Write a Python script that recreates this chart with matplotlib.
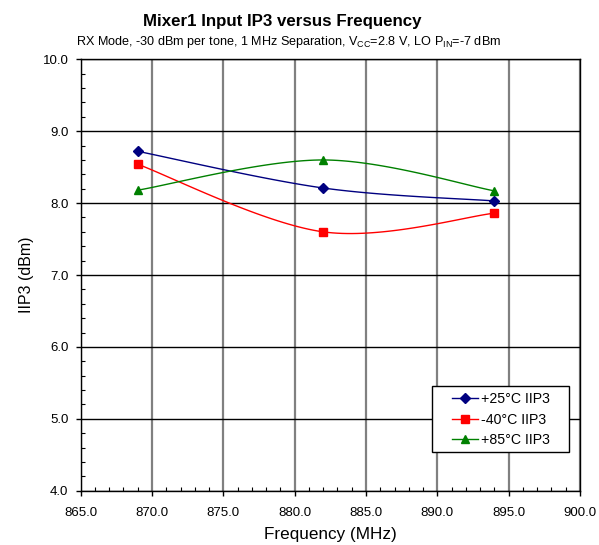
import matplotlib.pyplot as plt
import matplotlib.patches as patches
from matplotlib.legend_handler import HandlerLine2D
from matplotlib.ticker import MultipleLocator
import numpy as np

plt.rcParams['font.family'] = ['Liberation Sans', 'DejaVu Sans']
plt.rcParams['mathtext.fontset'] = 'custom'
plt.rcParams['mathtext.rm'] = 'Liberation Sans'

freq = [869.0, 882.0, 894.0]
iip3_25 = [8.72, 8.21, 8.03]
iip3_m40 = [8.54, 7.60, 7.86]
iip3_85 = [8.18, 8.60, 8.17]

xticks = np.arange(865.0, 900.1, 5.0)
yticks = np.arange(4.0, 10.01, 1.0)


def smooth(x, y, n=40):
    # excel style smoothed line (bezier through points)
    x = np.asarray(x, float)
    y = np.asarray(y, float)
    px = np.concatenate([[x[0]], x, [x[-1]]])
    py = np.concatenate([[y[0]], y, [y[-1]]])
    xs, ys = [], []
    for i in range(len(x) - 1):
        p0 = np.array([px[i], py[i]])
        p1 = np.array([px[i + 1], py[i + 1]])
        p2 = np.array([px[i + 2], py[i + 2]])
        p3 = np.array([px[i + 3], py[i + 3]])
        c1 = p1 + (p2 - p0) / 6
        c2 = p2 - (p3 - p1) / 6
        t = np.linspace(0, 1, n)[:, None]
        b = (1 - t) ** 3 * p1 + 3 * (1 - t) ** 2 * t * c1 + 3 * (1 - t) * t ** 2 * c2 + t ** 3 * p2
        xs.append(b[:, 0])
        ys.append(b[:, 1])
    return np.concatenate(xs), np.concatenate(ys)


W, H = 599, 545
fig = plt.figure(figsize=(W / 100, H / 100), dpi=100)
ax = fig.add_axes([80.7 / W, 1 - 490.7 / H, 499.3 / W, 431.4 / H])

series = [
    (iip3_25, '#000080', 'D', 4.6, '+25°C IIP3'),
    (iip3_m40, '#FF0000', 's', 5.6, '-40°C IIP3'),
    (iip3_85, '#008000', '^', 6.2, '+85°C IIP3'),
]
for vals, c, m, ms, lab in series:
    sx, sy = smooth(freq, vals)
    ax.plot(sx, sy, color=c, lw=1, zorder=3)
    ax.plot(freq, vals, ls='none', marker=m, ms=ms, color=c, mec=c, zorder=4)
    ax.plot([], [], color=c, lw=1, marker=m, ms=ms, label=lab)

ax.set_xlim(865, 900)
ax.set_ylim(4, 10)
ax.set_xticks(xticks)
ax.set_yticks(yticks)
ax.xaxis.set_minor_locator(MultipleLocator(1.0))
ax.yaxis.set_minor_locator(MultipleLocator(0.2))
ax.set_xticklabels(['%.1f' % v for v in xticks], fontsize=9.5)
ax.set_yticklabels(['%.1f' % v for v in yticks], fontsize=9.5)
ax.tick_params(axis='x', which='major', direction='out', length=3.5, width=1, pad=8.3)
ax.tick_params(axis='y', which='major', direction='out', length=3.5, width=1, pad=5.4)
ax.tick_params(which='minor', direction='in', length=3, width=0.8)
ax.xaxis.grid(True, which='major', color='#808080', lw=1.6)
ax.yaxis.grid(True, which='major', color='black', lw=1)
ax.set_axisbelow(True)
for s in ax.spines.values():
    s.set_color('black')
    s.set_linewidth(1)

ax.set_xlabel('Frequency (MHz)', fontsize=12.3, labelpad=6)
ax.set_ylabel('IIP3 (dBm)', fontsize=11.5, labelpad=6)

fig.text(0.4716, 0.961, 'Mixer1 Input IP3 versus Frequency', ha='center', va='center',
         fontsize=12.2, fontweight='bold')
fig.text(0.4816, 0.923, r'RX Mode, -30 dBm per tone, 1 MHz Separation, V$_{\mathrm{CC}}$=2.8 V, LO P$_{\mathrm{IN}}$=-7 dBm',
         ha='center', va='center', fontsize=9.1)

# legend box drawn separately to get excel-like padding
bx0, by0, bx1, by1 = 432.3, 385.7, 569.3, 451.7
box = patches.Rectangle((bx0 / W, 1 - by1 / H), (bx1 - bx0) / W, (by1 - by0) / H,
                        transform=fig.transFigure, facecolor='white',
                        edgecolor='black', lw=1, zorder=5, clip_on=False)
ax.add_patch(box)
leg = ax.legend(loc='upper left', bbox_to_anchor=(bx0 / W, 1 - (by0 + 6.5) / H),
                bbox_transform=fig.transFigure, fontsize=10.2, frameon=False,
                borderpad=0, borderaxespad=0, handlelength=3.2, handletextpad=0.25,
                labelspacing=0.45,
                handler_map={plt.Line2D: HandlerLine2D(numpoints=1, xpad=1.39)})
leg.set_zorder(6)

fig.savefig('out.png', dpi=100)
